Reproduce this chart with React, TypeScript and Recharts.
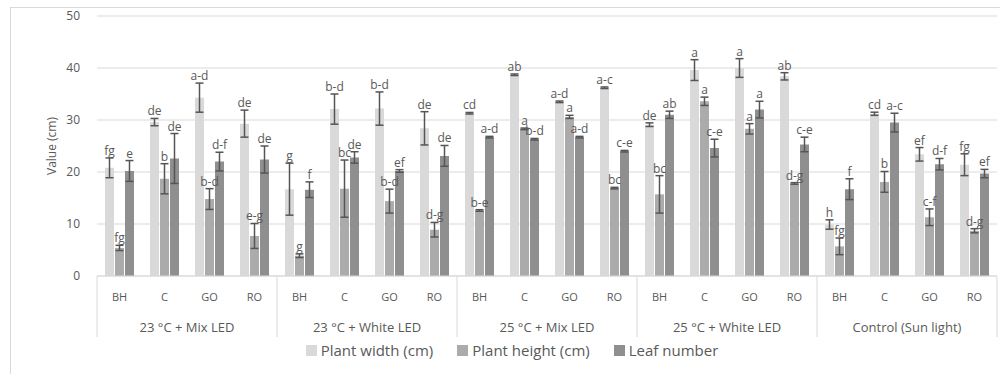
import React from 'react';
import { BarChart, Bar, XAxis, YAxis, CartesianGrid, ErrorBar, LabelList, Legend } from 'recharts';

const categories = ['BH', 'C', 'GO', 'RO'];
const groups = ['23 °C + Mix LED', '23 °C + White LED', '25 °C + Mix LED', '25 °C + White LED', 'Control (Sun light)'];

const widthVals = [20.8, 29.6, 34.3, 29.3, 16.7, 32.1, 32.2, 28.4, 31.3, 38.7, 33.5, 36.2, 29.1, 39.6, 40.0, 38.4, 9.9, 31.2, 23.4, 21.4];
const widthErr = [1.9, 0.7, 2.8, 2.6, 5.0, 2.9, 3.2, 3.2, 0.15, 0.15, 0.15, 0.15, 0.35, 2.0, 1.8, 0.7, 0.9, 0.3, 1.3, 2.1];
const widthLetters = ['fg', 'de', 'a-d', 'de', 'g', 'b-d', 'b-d', 'de', 'cd', 'ab', 'a-d', 'a-c', 'de', 'a', 'a', 'ab', 'h', 'cd', 'ef', 'fg'];

const heightVals = [5.4, 18.7, 14.8, 7.7, 3.9, 16.8, 14.4, 8.9, 12.6, 28.3, 30.6, 16.9, 15.7, 33.6, 28.3, 17.8, 5.7, 18.1, 11.3, 8.7];
const heightErr = [0.5, 2.9, 2.0, 2.4, 0.35, 5.5, 2.3, 1.4, 0.15, 0.15, 0.3, 0.15, 3.6, 0.8, 1.0, 0.15, 1.6, 2.0, 1.6, 0.4];
const heightLetters = ['fg', 'b', 'b-d', 'e-g', 'g', 'bc', 'b-d', 'd-g', 'b-e', 'a', 'a', 'bc', 'bc', 'a', 'a', 'd-g', 'fg', 'b', 'c-f', 'd-g'];

const leafVals = [20.2, 22.6, 22.0, 22.4, 16.6, 22.8, 20.2, 23.1, 26.7, 26.3, 26.7, 24.0, 31.0, 24.6, 32.0, 25.3, 16.7, 29.5, 21.5, 19.7];
const leafErr = [2.0, 4.8, 1.8, 2.6, 1.5, 1.1, 0.25, 2.0, 0.15, 0.15, 0.15, 0.15, 0.7, 1.7, 1.6, 1.4, 2.0, 1.8, 1.1, 0.8];
const leafLetters = ['e', 'de', 'd-f', 'de', 'f', 'de', 'ef', 'de', 'a-d', 'b-d', 'a-d', 'c-e', 'ab', 'c-e', 'a', 'c-e', 'f', 'a-c', 'd-f', 'ef'];

const yTicks = [0, 10, 20, 30, 40, 50];

const FONT = '"Open Sans", sans-serif';
const TEXT = '#595959';
const LINE = '#d9d9d9';
const COLORS = { w: '#d9d9d9', h: '#ababab', l: '#8f8f8f' };

const rows = widthVals.map((_, i) => ({
  cat: categories[i % 4],
  group: groups[Math.floor(i / 4)],
  w: widthVals[i],
  wE: widthErr[i],
  wL: `${widthLetters[i]}|${widthErr[i]}`,
  h: heightVals[i],
  hE: heightErr[i],
  hL: `${heightLetters[i]}|${heightErr[i]}`,
  l: leafVals[i],
  lE: leafErr[i],
  lL: `${leafLetters[i]}|${leafErr[i]}`,
}));

const W = 1000;
const H = 374;
const X_H = 60;
const M = { top: 16, right: 3, bottom: 98 - X_H, left: 0 };
const Y_W = 97;
const BAND = (W - M.left - M.right - Y_W) / rows.length;

// tick for the two-level category axis: sub label, group label, box lines
function CatTick(props: any) {
  const { x, y, index } = props;
  const row = rows[index];
  if (!row) return null;
  const left = x - BAND / 2;
  const right = x + BAND / 2;
  return (
    <g>
      <text x={x} y={y + 25} textAnchor="middle" fontSize={11} fill={TEXT} fontFamily={FONT}>
        {row.cat}
      </text>
      {index % 4 === 1 && (
        <text x={right} y={y + 56} textAnchor="middle" fontSize={13} fill={TEXT} fontFamily={FONT}>
          {row.group}
        </text>
      )}
      {index % 4 === 0 && <line x1={left} y1={y} x2={left} y2={y + 61} stroke={LINE} />}
      {index === rows.length - 1 && <line x1={right} y1={y} x2={right} y2={y + 61} stroke={LINE} />}
    </g>
  );
}

function Letter(props: any) {
  const { x, y, width, height, value, barValue } = props;
  if (value == null) return null;
  const [letter, errStr] = String(value).split('|');
  const err = Number(errStr);
  // px per unit from the bar itself
  const ppu = barValue ? height / barValue : 5.2;
  const top = y - err * ppu;
  return (
    <text x={x + width / 2} y={top - 3} textAnchor="middle" fontSize={12} fill={TEXT} fontFamily={FONT}>
      {letter}
    </text>
  );
}

const letterFor = (vals: number[]) => (p: any) => {
  const idx = p.index;
  const barValue = idx != null ? vals[idx] : undefined;
  return <Letter {...p} barValue={barValue} />;
};

function LegendBox() {
  const items = [
    { name: 'Plant width (cm)', color: COLORS.w },
    { name: 'Plant height (cm)', color: COLORS.h },
    { name: 'Leaf number', color: COLORS.l },
  ];
  return (
    <div style={{ display: 'flex', justifyContent: 'center', gap: 24, paddingLeft: 24, fontFamily: FONT, fontSize: 15, color: TEXT }}>
      {items.map((it) => (
        <div key={it.name} style={{ display: 'flex', alignItems: 'center' }}>
          <span style={{ width: 11, height: 11, background: it.color, display: 'inline-block', marginRight: 4 }} />
          <span>{it.name}</span>
        </div>
      ))}
    </div>
  );
}

export default function App() {
  return (
    <div style={{ position: 'absolute', left: 0, top: 0, width: W, height: H, overflow: 'hidden', background: '#fff' }}>
      <div style={{ position: 'absolute', left: 10, top: 7, width: 1200, height: 600, border: `1px solid ${LINE}` }} />
      <BarChart width={W} height={H} data={rows} margin={M} barSize={9} barGap={1}>
        <CartesianGrid vertical={false} stroke={LINE} />
        <XAxis
          dataKey="cat"
          interval={0}
          tickLine={false}
          tickSize={0}
          tickMargin={0}
          axisLine={{ stroke: LINE }}
          tick={<CatTick />}
          height={X_H}
        />
        <YAxis
          domain={[0, 50]}
          ticks={yTicks}
          width={Y_W}
          axisLine={false}
          tickLine={false}
          tickMargin={11}
          tick={{ fill: TEXT, fontSize: 12, fontFamily: FONT }}
          label={(p: any) => {
            const vb = p.viewBox || { x: 0, y: M.top, height: H - M.top - 98 };
            const cx = 51;
            const cy = vb.y + vb.height / 2;
            return (
              <text x={cx} y={cy} transform={`rotate(-90 ${cx} ${cy})`} textAnchor="middle" dominantBaseline="central" fontSize={12} fill={TEXT} fontFamily={FONT}>
                Value (cm)
              </text>
            );
          }}
        />
        <Legend
          verticalAlign="middle"
          align="center"
          content={<LegendBox />}
          wrapperStyle={{ left: 0, width: W, top: 340 }}
        />
        <Bar dataKey="w" name="Plant width (cm)" fill={COLORS.w} isAnimationActive={false}>
          <ErrorBar dataKey="wE" width={4} stroke="#555" strokeWidth={1.5} />
          <LabelList dataKey="wL" content={letterFor(widthVals)} />
        </Bar>
        <Bar dataKey="h" name="Plant height (cm)" fill={COLORS.h} isAnimationActive={false}>
          <ErrorBar dataKey="hE" width={4} stroke="#555" strokeWidth={1.5} />
          <LabelList dataKey="hL" content={letterFor(heightVals)} />
        </Bar>
        <Bar dataKey="l" name="Leaf number" fill={COLORS.l} isAnimationActive={false}>
          <ErrorBar dataKey="lE" width={4} stroke="#555" strokeWidth={1.5} />
          <LabelList dataKey="lL" content={letterFor(leafVals)} />
        </Bar>
      </BarChart>
    </div>
  );
}
